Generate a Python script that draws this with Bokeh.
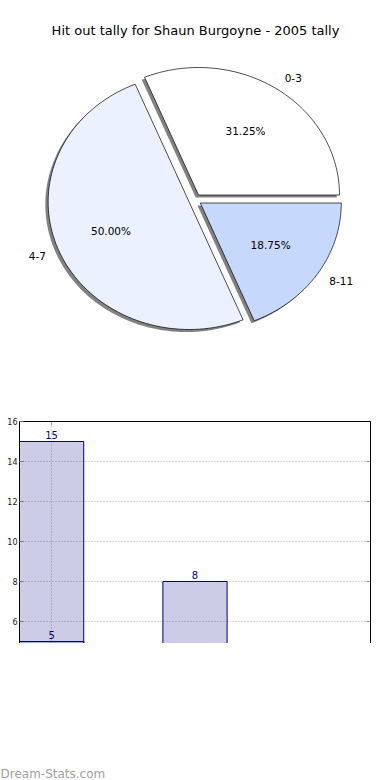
import numpy as np
from bokeh.plotting import figure
from bokeh.models import ColumnDataSource, Label, LinearAxis, FixedTicker, Range1d
from bokeh.layouts import column
from bokeh.embed import file_html
from bokeh.resources import INLINE
from bokeh.core.properties import value

# ---------------- data ----------------
title_text = "Hit out tally for Shaun Burgoyne - 2005 tally"
pie_labels = ["0-3", "4-7", "8-11"]
pie_counts = [5, 8, 3]
pie_colors = ["#ffffff", "#ebf1fe", "#c6d9fd"]

bar_pos_a = [0]
bar_vals_a = [15]
bar_pos_b = [0, 1, 2]
bar_vals_b = [5, 8, 3]
y_ticks = [6, 8, 10, 12, 14, 16]
x_ticks = [0]
watermark = "Dream-Stats.com"

FONT = "DejaVu Sans"

# common frame borders (frames of stacked plots are aligned by the column)
BL, BR = 19, 20
W = 390

# ---------------- pie (screen-proportional units: 1 unit = 1 px) ----------------
RX, RY = 141.0, 127.5
explode = 0.045
total = float(sum(pie_counts))
fracs = [c / total for c in pie_counts]

PH = 393
CXP, CYP = 194.5, 199.3        # pie centre in page px
pie = figure(width=W, height=PH, output_backend="svg", toolbar_location=None,
             x_range=Range1d(BL - CXP, W - BR - CXP), y_range=Range1d(CYP - PH, CYP),
             x_axis_type=None, y_axis_type=None,
             min_border_left=BL, min_border_right=BR, min_border_top=0, min_border_bottom=0)
pie.grid.visible = False
pie.outline_line_color = None

wx, wy, sx, sy = [], [], [], []
lab_x, lab_y, lab_align = [], [], []
pct_x, pct_y, pct_text = [], [], []
theta1 = 0.0
for f in fracs:
    theta2 = theta1 + 360.0 * f
    mid = np.deg2rad((theta1 + theta2) / 2)
    cx, cy = explode * np.cos(mid), explode * np.sin(mid)
    th = np.deg2rad(np.linspace(theta1, theta2, 90))
    xs = np.concatenate([[cx], cx + np.cos(th), [cx]])
    ys = np.concatenate([[cy], cy + np.sin(th), [cy]])
    wx.append(list(xs * RX)); wy.append(list(ys * RY))
    sx.append(list((xs - 0.02) * RX)); sy.append(list((ys - 0.02) * RY))
    lab_x.append((cx + 1.1 * np.cos(mid)) * RX); lab_y.append((cy + 1.1 * np.sin(mid)) * RY)
    lab_align.append("left" if np.cos(mid) > 0 else "right")
    pct_x.append((cx + 0.6 * np.cos(mid)) * RX); pct_y.append((cy + 0.6 * np.sin(mid)) * RY)
    pct_text.append("%.2f%%" % (f * 100))
    theta1 = theta2

pie.patches(xs=sx, ys=sy, fill_color="#4d4d4d", fill_alpha=0.7, line_color=None)
pie.patches(xs=wx, ys=wy, fill_color=pie_colors, line_color="black", line_width=0.7)

lab_src = ColumnDataSource(dict(x=lab_x, y=lab_y, t=pie_labels, a=lab_align))
pie.text(x="x", y="y", text="t", text_align="a", text_baseline="middle",
         source=lab_src, text_font=value(FONT), text_font_size="10.5px", text_color="black")
pct_src = ColumnDataSource(dict(x=pct_x, y=pct_y, t=pct_text))
pie.text(x="x", y="y", text="t", text_align="center", text_baseline="middle",
         source=pct_src, text_font=value(FONT), text_font_size="10.5px", text_color="black")

pie.add_layout(Label(x=195 - CXP, y=CYP - 30, text=title_text, text_align="center",
                     text_baseline="middle", text_font=FONT, text_font_size="13px",
                     text_color="black"))

# ---------------- bars ----------------
x_lo, x_hi = -0.224, 2.224
y_cut = 4.9
bar = figure(width=W, height=250, output_backend="svg", toolbar_location=None,
             x_range=Range1d(x_lo, x_hi), y_range=Range1d(y_cut, 16),
             x_axis_location="above", min_border_top=28, min_border_bottom=0,
             min_border_left=BL, min_border_right=BR)
bar.outline_line_color = None

bw = 0.448
all_pos = bar_pos_a + bar_pos_b
all_val = bar_vals_a + bar_vals_b
vis = [(p_, v_) for p_, v_ in zip(all_pos, all_val) if v_ > y_cut]
vis_pos = [p_ for p_, _ in vis]
vis_val = [v_ for _, v_ in vis]

bar.vbar(x=vis_pos, top=vis_val, bottom=y_cut, width=bw,
         fill_color="navy", fill_alpha=0.2, line_color=None)
edge_xs = [[p_ - bw / 2, p_ - bw / 2, p_ + bw / 2, p_ + bw / 2] for p_ in vis_pos]
edge_ys = [[y_cut, v_, v_, y_cut] for v_ in vis_val]
bar.multi_line(xs=edge_xs, ys=edge_ys, line_color="navy", line_width=1)

txt_src = ColumnDataSource(dict(x=vis_pos, y=vis_val, t=[str(v_) for v_ in vis_val]))
bar.text(x="x", y="y", text="t", source=txt_src, text_align="center",
         text_baseline="middle", y_offset=-7, text_font=value(FONT),
         text_font_size="10px", text_color="navy")

for ax in bar.yaxis:
    ax.ticker = FixedTicker(ticks=y_ticks)
    ax.major_tick_in = 4
    ax.major_tick_out = 0
    ax.minor_tick_line_color = None
    ax.major_tick_line_color = "#777777"
    ax.major_label_standoff = 2
    ax.major_label_text_font = FONT
    ax.major_label_text_font_size = "8px"
    ax.major_label_text_color = "#222222"
    ax.axis_line_color = "black"

for ax in bar.xaxis:
    ax.ticker = FixedTicker(ticks=[])
    ax.minor_tick_line_color = None
    ax.axis_line_color = "black"

right_ax = LinearAxis(ticker=FixedTicker(ticks=[]), minor_tick_line_color=None,
                      axis_line_color="black")
bar.add_layout(right_ax, "right")

bar.scatter(x=[x_hi] * len(y_ticks), y=y_ticks, marker="dash", size=8,
            line_color="#999999", line_width=1)
bar.scatter(x=x_ticks, y=[16] * len(x_ticks), marker="dash", size=8, angle=np.pi / 2,
            line_color="#999999", line_width=1)

bar.ygrid.ticker = FixedTicker(ticks=y_ticks)
bar.xgrid.ticker = FixedTicker(ticks=x_ticks)
bar.grid.grid_line_color = "#b0b0b0"
bar.grid.grid_line_dash = "1 2"
bar.grid.grid_line_width = 1

# ---------------- footer with watermark (as a below-title, not clipped by the frame) ----
FH = 137
foot = figure(width=W, height=FH, output_backend="svg", toolbar_location=None,
              x_range=Range1d(0, 1), y_range=Range1d(0, 1),
              x_axis_type=None, y_axis_type=None, title=watermark, title_location="below",
              min_border_left=BL, min_border_right=BR, min_border_top=0, min_border_bottom=5)
foot.grid.visible = False
foot.outline_line_color = None
foot.title.align = "left"
foot.title.offset = -BL
foot.title.standoff = 0
foot.title.text_font = FONT
foot.title.text_font_size = "12px"
foot.title.text_font_style = "normal"
foot.title.text_color = "#a0a0a0"

layout = column(pie, bar, foot)
open("out.html", "w").write(file_html(layout, INLINE))
